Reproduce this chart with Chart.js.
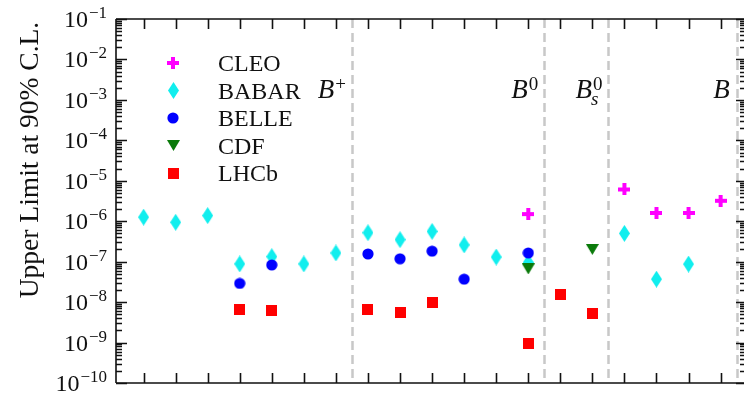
<!DOCTYPE html>
<html>
<head>
<meta charset="utf-8">
<script src="https://cdn.jsdelivr.net/npm/chart.js@4.4.0/dist/chart.umd.min.js"></script>
<style>
  html, body { margin: 0; padding: 0; background: #fff; overflow: hidden; }
</style>
</head>
<body>
<canvas id="chart" width="751" height="393"></canvas>
<script>
// decay channels, one slot per x tick
const xTicks = [0, 1, 2, 3, 4, 5, 6, 7, 8, 9, 10, 11, 12, 13, 14, 15, 16, 17, 18];

const cleoX = [12, 15, 16, 17, 18];
const cleoY = [1.5e-6, 6.1e-6, 1.6e-6, 1.6e-6, 3.2e-6];

const babarX = [0, 1, 2, 3, 4, 5, 6, 7, 8, 9, 10, 11, 12, 15, 16, 17];
const babarY = [1.26e-6, 9.4e-7, 1.38e-6, 8.8e-8, 1.33e-7, 8.8e-8, 1.64e-7, 5.2e-7, 3.5e-7, 5.6e-7, 2.6e-7, 1.3e-7, 9.6e-8, 5.0e-7, 3.7e-8, 8.7e-8];

const belleX = [3, 4, 7, 8, 9, 10, 12];
const belleY = [2.9e-8, 8.3e-8, 1.55e-7, 1.18e-7, 1.82e-7, 3.7e-8, 1.64e-7];

const cdfX = [12, 14];
const cdfY = [6.6e-8, 2.0e-7];

const lhcbX = [3, 4, 7, 8, 9, 12, 13, 14];
const lhcbY = [6.6e-9, 6.2e-9, 6.5e-9, 5.6e-9, 9.8e-9, 9.6e-10, 1.5e-8, 5.2e-9];

const yTicks = [1e-1, 1e-2, 1e-3, 1e-4, 1e-5, 1e-6, 1e-7, 1e-8, 1e-9, 1e-10];
const yExponents = [-1, -2, -3, -4, -5, -6, -7, -8, -9, -10];

// dashed separators between meson groups
const dividers = [6.5, 12.5, 14.5, 18.5];
const groupLabels = [
  { base: "B", sup: "+", sub: "" },
  { base: "B", sup: "0", sub: "" },
  { base: "B", sup: "0", sub: "s" },
  { base: "B", sup: "", sub: "" }
];

const serif = '"Liberation Serif", "DejaVu Serif", serif';

function makeMarker(w, h, draw) {
  const c = document.createElement("canvas");
  c.width = w;
  c.height = h;
  draw(c.getContext("2d"), w, h);
  return c;
}

const plusMark = makeMarker(12, 12, (g, w, h) => {
  g.fillStyle = "#ff00ff";
  g.fillRect(4, 0, 4, 12);
  g.fillRect(0, 4, 12, 4);
});
const diamondMark = makeMarker(11, 17, (g, w, h) => {
  g.fillStyle = "#11eeee";
  g.beginPath();
  g.moveTo(w / 2, 0); g.lineTo(w, h / 2); g.lineTo(w / 2, h); g.lineTo(0, h / 2);
  g.closePath();
  g.fill();
});
const circleMark = makeMarker(12, 12, (g, w, h) => {
  g.fillStyle = "#0000ff";
  g.beginPath();
  g.arc(6, 6, 5.6, 0, Math.PI * 2);
  g.fill();
});
const triangleMark = makeMarker(13, 11, (g, w, h) => {
  g.fillStyle = "#0a7a0a";
  g.beginPath();
  g.moveTo(0, 0); g.lineTo(w, 0); g.lineTo(w / 2, h);
  g.closePath();
  g.fill();
});
const squareMark = makeMarker(11, 11, (g, w, h) => {
  g.fillStyle = "#ff0000";
  g.fillRect(0, 0, w, h);
});

const toPoints = (xs, ys) => xs.map((x, i) => ({ x: x, y: ys[i] }));

const series = [
  { label: "CLEO", xs: cleoX, ys: cleoY, mark: plusMark },
  { label: "BABAR", xs: babarX, ys: babarY, mark: diamondMark },
  { label: "BELLE", xs: belleX, ys: belleY, mark: circleMark },
  { label: "CDF", xs: cdfX, ys: cdfY, mark: triangleMark },
  { label: "LHCb", xs: lhcbX, ys: lhcbY, mark: squareMark }
];

// draw order: BABAR first so the others sit on top of it
const drawOrder = [1, 2, 0, 4, 3];

const frame = {
  id: "frame",
  beforeDatasetsDraw(chart) {
    const { ctx, chartArea: a, scales: { x } } = chart;
    ctx.save();
    ctx.strokeStyle = "#c8c8c8";
    ctx.lineWidth = 2.5;
    ctx.setLineDash([9, 5]);
    dividers.forEach(d => {
      const px = Math.round(x.getPixelForValue(d)) + 0.5;
      ctx.beginPath();
      ctx.moveTo(px, a.top);
      ctx.lineTo(px, a.bottom);
      ctx.stroke();
    });
    ctx.restore();
  },
  afterDatasetsDraw(chart) {
    const { ctx, chartArea: a, scales: { x, y } } = chart;
    ctx.save();
    ctx.strokeStyle = "#111";
    ctx.lineWidth = 1.6;

    // frame lines
    ctx.beginPath();
    ctx.moveTo(a.left, a.top); ctx.lineTo(a.right, a.top);
    ctx.moveTo(a.left, a.bottom); ctx.lineTo(a.right, a.bottom);
    ctx.moveTo(a.left, a.top); ctx.lineTo(a.left, a.bottom);
    ctx.stroke();

    // x ticks, top and bottom
    ctx.beginPath();
    xTicks.forEach(t => {
      const px = Math.round(x.getPixelForValue(t)) + 0.5;
      ctx.moveTo(px, a.bottom); ctx.lineTo(px, a.bottom - 10);
      ctx.moveTo(px, a.top); ctx.lineTo(px, a.top + 10);
    });
    ctx.stroke();

    // y ticks, left and right, with log minors
    ctx.lineWidth = 1.3;
    ctx.beginPath();
    yTicks.forEach(v => {
      const py = Math.round(y.getPixelForValue(v)) + 0.5;
      ctx.moveTo(a.left, py); ctx.lineTo(a.left + 11, py);
      ctx.moveTo(a.right, py); ctx.lineTo(a.right - 8, py);
      if (v < 1e-1) {
        for (let m = 2; m <= 9; m++) {
          const pm = Math.round(y.getPixelForValue(v * m)) + 0.5;
          ctx.moveTo(a.left, pm); ctx.lineTo(a.left + 6, pm);
          ctx.moveTo(a.right, pm); ctx.lineTo(a.right - 4, pm);
        }
      }
    });
    ctx.stroke();

    // y tick labels 10^n
    ctx.fillStyle = "#111";
    ctx.textBaseline = "alphabetic";
    ctx.textAlign = "left";
    yTicks.forEach((v, i) => {
      const py = y.getPixelForValue(v);
      const exp = "\u2212" + Math.abs(yExponents[i]);
      ctx.font = "17px " + serif;
      const ew = ctx.measureText(exp).width;
      ctx.font = "24px " + serif;
      const bw = ctx.measureText("10").width;
      const x0 = 106 - ew - bw;
      ctx.fillText("10", x0, py + 8);
      ctx.font = "17px " + serif;
      ctx.fillText(exp, x0 + bw + 1, py - 1);
    });

    // axis title
    ctx.save();
    ctx.translate(38, 160);
    ctx.rotate(-Math.PI / 2);
    ctx.textAlign = "center";
    ctx.font = "27.5px " + serif;
    ctx.fillText("Upper Limit at 90% C.L.", 0, 0);
    ctx.restore();

    // group labels, right aligned against each divider
    groupLabels.forEach((g, i) => {
      const right = x.getPixelForValue(dividers[i]) - 6;
      ctx.font = "italic 27px " + serif;
      const bw = ctx.measureText(g.base).width;
      ctx.font = "19px " + serif;
      const sw = g.sup ? ctx.measureText(g.sup).width : 0;
      ctx.font = "italic 19px " + serif;
      const subw = g.sub ? ctx.measureText(g.sub).width : 0;
      const x0 = right - bw - Math.max(sw, subw) - 1;
      const base = 98;
      ctx.font = "italic 27px " + serif;
      ctx.fillText(g.base, x0, base);
      if (g.sup) {
        ctx.font = "19px " + serif;
        ctx.fillText(g.sup, x0 + bw + 1, base - 8);
      }
      if (g.sub) {
        ctx.font = "italic 19px " + serif;
        ctx.fillText(g.sub, x0 + bw - 1, base + 7);
      }
    });

    // legend
    ctx.font = "24px " + serif;
    series.forEach((s, i) => {
      const cy = 63 + i * 27.5;
      ctx.drawImage(s.mark, Math.round(173 - s.mark.width / 2), Math.round(cy - s.mark.height / 2));
      ctx.fillText(s.label, 218, cy + 8);
    });

    ctx.restore();
  }
};

new Chart(document.getElementById("chart"), {
  type: "scatter",
  data: {
    datasets: drawOrder.map(i => ({
      label: series[i].label,
      data: toPoints(series[i].xs, series[i].ys),
      pointStyle: series[i].mark,
      pointRadius: 6,
      pointHoverRadius: 6,
      order: drawOrder.length - drawOrder.indexOf(i)
    }))
  },
  options: {
    responsive: false,
    animation: false,
    layout: { padding: { left: 116, top: 19, right: 0, bottom: 10 } },
    plugins: { legend: { display: false }, tooltip: { enabled: false } },
    scales: {
      x: { type: "linear", min: -0.86, max: 18.73, display: false },
      y: { type: "logarithmic", min: 1e-10, max: 1e-1, display: false }
    }
  },
  plugins: [frame]
});
</script>
</body>
</html>
